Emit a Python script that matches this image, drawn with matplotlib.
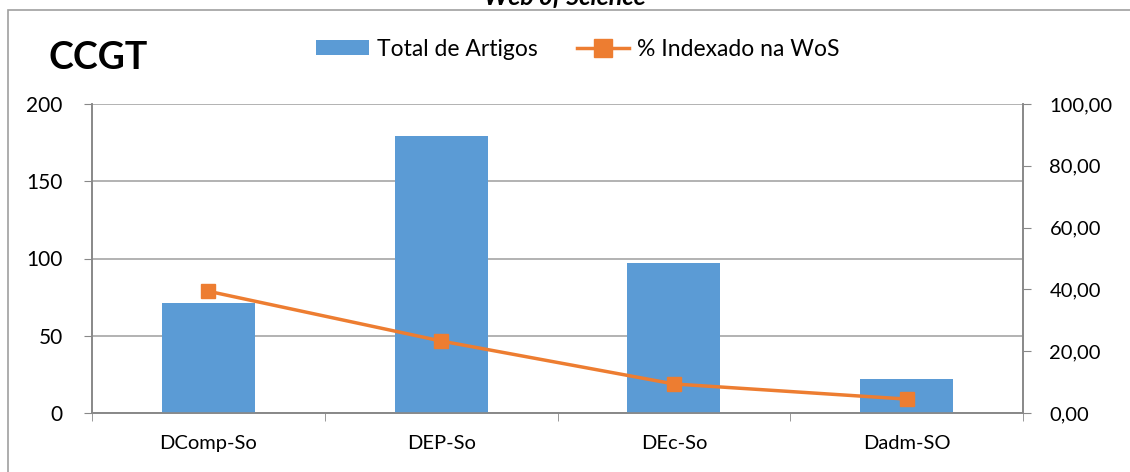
import matplotlib.pyplot as plt
from matplotlib.ticker import FuncFormatter, FixedLocator

departamentos = ["DComp-So", "DEP-So", "DEc-So", "Dadm-SO"]
total_artigos = [71, 179, 97, 22]
pct_wos = [39.4, 23.3, 9.4, 4.5]

plt.rcParams['font.family'] = ['Lato', 'DejaVu Sans']

fig = plt.figure(figsize=(11.3, 4.72), dpi=100)
ax = fig.add_axes([92/1130, 1 - 413/472, (1023-92)/1130, (413-104)/472])
ax2 = ax.twinx()

x = list(range(len(departamentos)))
bars = ax.bar(x, total_artigos, width=0.4, color='#5b9bd5', zorder=3, label='Total de Artigos')
line, = ax2.plot(x, pct_wos, color='#ed7d31', lw=2.5, marker='s', ms=10, zorder=4,
                 label='% Indexado na WoS')

ax.set_xlim(-0.5, len(departamentos) - 0.5)
ax.set_ylim(0, 200)
ax.set_yticks([0, 50, 100, 150, 200])
ax2.set_ylim(0, 100)
ax2.set_yticks([0, 20, 40, 60, 80, 100])
ax2.yaxis.set_major_formatter(FuncFormatter(lambda v, p: f"{v:.2f}".replace('.', ',')))

ax.set_xticks(x)
ax.set_xticklabels(departamentos)
ax.tick_params(axis='x', length=0, labelsize=14.5, pad=16)
ax.xaxis.set_minor_locator(FixedLocator([i - 0.5 for i in range(len(x) + 1)]))
ax.tick_params(axis='x', which='minor', length=6, color='#888888')
ax.tick_params(axis='y', labelsize=15, length=6, color='#888888', pad=15)
ax2.tick_params(axis='y', labelsize=14.5, length=6, color='#888888', pad=13)

ax.grid(axis='y', color='#a6a6a6', lw=1.2, zorder=0)
for a in (ax, ax2):
    a.spines['top'].set_visible(False)
    for s in ('left', 'right', 'bottom'):
        a.spines[s].set_color('#888888')
        a.spines[s].set_linewidth(1.2)

# chart frame and clipped title
fig.patches.append(plt.Rectangle((8/1130, -0.01), 1.1, 1 - 10/472 + 0.01, transform=fig.transFigure,
                                 fill=False, edgecolor='#a0a0a0', lw=1.2))
fig.text(0.5, 1 - 5/472, "Web of Science", ha='center', va='baseline', fontsize=18,
         fontweight='bold', style='italic')
fig.text(48/1130, 1 - 58/472, "CCGT", fontsize=27, fontweight='bold', va='center')

fig.legend(handles=[bars, line], loc='center', bbox_to_anchor=(578/1130, 1 - 49/472),
           ncol=2, frameon=False, fontsize=16.5, handlelength=2.3, handleheight=0.6,
           columnspacing=1.7, handletextpad=0.35, markerscale=1.3)

fig.savefig("out.png", dpi=100)
